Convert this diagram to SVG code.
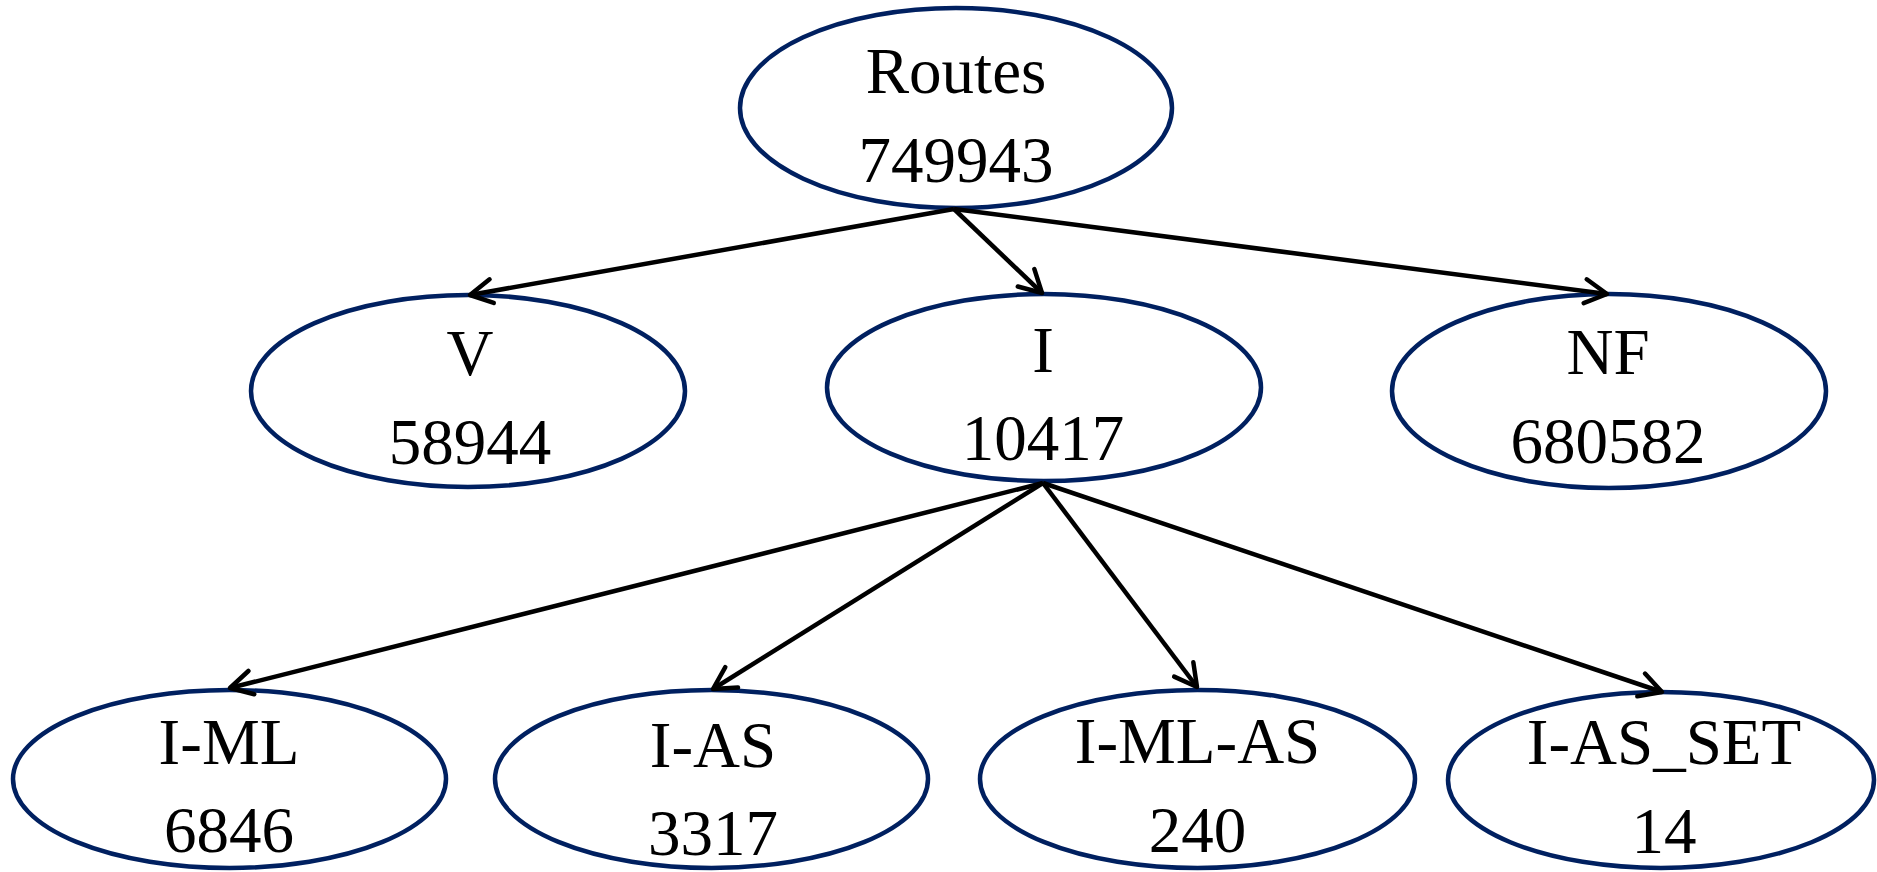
<svg xmlns="http://www.w3.org/2000/svg" width="1877" height="872" viewBox="0 0 1877 872">
<style>
.node ellipse{fill:#fff;stroke:#002060;stroke-width:4.5}
.node text{font-family:"Liberation Serif","Times New Roman",serif;font-size:65px;fill:#000;text-anchor:middle}
.edge{fill:none;stroke:#000;stroke-width:4.5;marker-end:url(#arr)}
</style>
<defs>
<marker id="arr" markerUnits="userSpaceOnUse" viewBox="-30 -16 34 32" refX="0" refY="0" markerWidth="34" markerHeight="32" orient="auto">
<path d="M-22,-12 L0,0 L-22,12" fill="none" stroke="#000" stroke-width="4.5" stroke-linecap="round" stroke-linejoin="round"/>
</marker>
</defs>
<rect width="1877" height="872" fill="#fff"/>
<g id="node-routes" class="node">
<ellipse cx="956" cy="108" rx="216" ry="100"/>
<text x="956" y="93">Routes</text>
<text x="956" y="182">749943</text>
</g>
<g id="node-v" class="node">
<ellipse cx="468" cy="391" rx="217" ry="96"/>
<text x="470" y="375">V</text>
<text x="470" y="464">58944</text>
</g>
<g id="node-i" class="node">
<ellipse cx="1044" cy="387.5" rx="217" ry="93.5"/>
<text x="1043" y="372">I</text>
<text x="1043" y="460">10417</text>
</g>
<g id="node-nf" class="node">
<ellipse cx="1609" cy="391" rx="217" ry="97"/>
<text x="1608" y="374">NF</text>
<text x="1608" y="463">680582</text>
</g>
<g id="node-iml" class="node">
<ellipse cx="229.5" cy="779" rx="216.5" ry="89"/>
<text x="229" y="764">I-ML</text>
<text x="229" y="852">6846</text>
</g>
<g id="node-ias" class="node">
<ellipse cx="711.5" cy="779" rx="216.5" ry="89"/>
<text x="713" y="767">I-AS</text>
<text x="713" y="855">3317</text>
</g>
<g id="node-imlas" class="node">
<ellipse cx="1197.5" cy="779" rx="217.5" ry="89"/>
<text x="1197.5" y="763">I-ML-AS</text>
<text x="1197.5" y="852">240</text>
</g>
<g id="node-iasset" class="node">
<ellipse cx="1661" cy="780" rx="213" ry="88"/>
<text x="1664" y="764">I-AS_SET</text>
<text x="1664" y="853">14</text>
</g>
<g id="connectors">
<line class="edge" x1="954" y1="209" x2="470" y2="295"/>
<line class="edge" x1="954" y1="209" x2="1042" y2="293"/>
<line class="edge" x1="954" y1="209" x2="1607" y2="294"/>
<line class="edge" x1="1043" y1="483" x2="230" y2="688"/>
<line class="edge" x1="1043" y1="483" x2="713" y2="689"/>
<line class="edge" x1="1043" y1="483" x2="1197" y2="687"/>
<line class="edge" x1="1043" y1="483" x2="1662" y2="692"/>
</g>
</svg>
